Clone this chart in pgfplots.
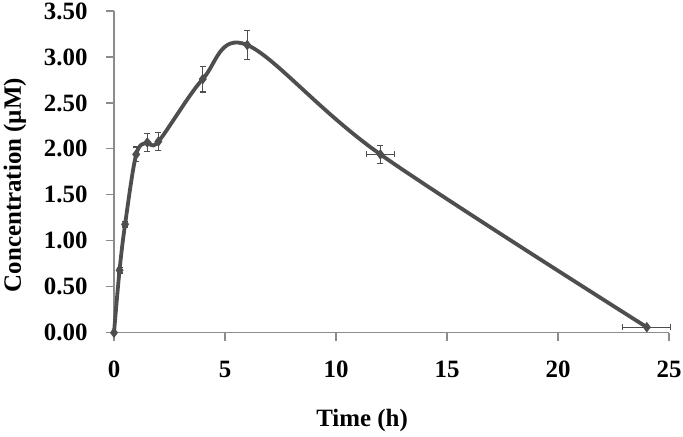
\documentclass[border=0pt]{standalone}
\usepackage{pgfplots}
\pgfplotsset{compat=1.18}
\usepackage{fontspec}
\setmainfont{Liberation Serif}
\definecolor{linegray}{RGB}{78,78,78}
\definecolor{axgray}{RGB}{140,140,140}
\begin{document}
\begin{tikzpicture}
\path[use as bounding box] (-114bp,-104.3bp) rectangle (569bp,332.7bp);
\begin{axis}[
  scale only axis,
  width=555bp, height=321.7bp,
  xmin=0, xmax=25, ymin=0, ymax=3.5,
  axis x line=bottom, axis y line=left,
  axis line style={-, axgray, line width=1.2bp},
  xtick={0,5,10,15,20,25},
  ytick={0,0.5,1,1.5,2,2.5,3,3.5},
  tick align=outside,
  major tick length=8bp,
  tick style={draw=axgray, line width=1.2bp},
  clip=false,
  font=\fontsize{25}{29}\selectfont\bfseries,
  /pgf/number format/assume math mode=true,
  yticklabel style={/pgf/number format/fixed, /pgf/number format/fixed zerofill, /pgf/number format/precision=2, xshift=-15bp},
  xticklabel style={/pgf/number format/fixed, /pgf/number format/precision=0, yshift=-17bp},
  xlabel={Time (h)},
  ylabel={Concentration (\textmu M)},
  xlabel style={at={(axis description cs:0.447,-0.2745)}, anchor=center},
  ylabel style={at={(axis description cs:-0.1784,0.459)}, anchor=center},
]
% tick marks drawn as one-sided error bars
\addplot[draw=none, mark=none, forget plot,
  error bars/.cd, y dir=minus, y explicit, error mark=none,
  error bar style={draw=axgray, line width=1.2bp, solid}]
  coordinates {(0,0) +- (0,0.087) (5,0) +- (0,0.087) (10,0) +- (0,0.087)
               (15,0) +- (0,0.087) (20,0) +- (0,0.087) (25,0) +- (0,0.087)};
\addplot[draw=none, mark=none, forget plot,
  error bars/.cd, x dir=minus, x explicit, error mark=none,
  error bar style={draw=axgray, line width=1.2bp, solid}]
  coordinates {(0,0) +- (0.36,0) (0,0.5) +- (0.36,0) (0,1) +- (0.36,0) (0,1.5) +- (0.36,0)
               (0,2) +- (0.36,0) (0,2.5) +- (0.36,0) (0,3) +- (0.36,0) (0,3.5) +- (0.36,0)};
\addplot[
  color=linegray, line width=3.8bp, smooth, tension=0.55,
  mark=diamond*, mark size=4.5bp, mark options={solid, fill=linegray, line width=1bp},
  error bars/.cd,
    y dir=both, y explicit,
    x dir=both, x explicit,
    error bar style={line width=1.3bp, color=linegray},
    error mark options={rotate=90, mark size=3bp, line width=1.3bp, color=linegray},
] table[x=x, y=y, x error=ex, y error=ey] {
x     y     ex    ey
0     0     0     0
0.25  0.68  0     0.03
0.5   1.18  0     0.03
1     1.94  0     0.08
1.5   2.07  0     0.10
2     2.08  0     0.10
4     2.76  0     0.14
6     3.13  0     0.16
12    1.94  0.62  0.10
24    0.06  1.08  0
};
\end{axis}
\end{tikzpicture}
\end{document}
